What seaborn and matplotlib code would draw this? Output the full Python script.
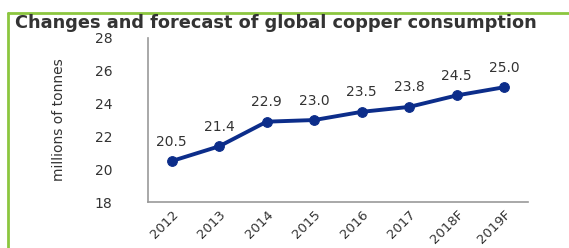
import matplotlib
matplotlib.use('Agg')
import matplotlib.pyplot as plt
import seaborn as sns
import pandas as pd
import numpy as np
from matplotlib.lines import Line2D

# datos del gráfico
years = ['2012', '2013', '2014', '2015', '2016', '2017', '2018F', '2019F']
consumption = [20.5, 21.4, 22.9, 23.0, 23.5, 23.8, 24.5, 25.0]

df = pd.DataFrame({'pos': np.arange(len(years)), 'year': years, 'value': consumption})

sns.set_style('white')
plt.rcParams['font.family'] = ['DejaVu Sans']

fig = plt.figure(figsize=(5.69, 2.48), dpi=100)
ax = fig.add_axes([0.260, 0.185, 0.668, 0.662])

line_color = '#0c2d8a'
sns.lineplot(data=df, x='pos', y='value', ax=ax, color=line_color, linewidth=2.8,
             marker='o', markersize=7, markeredgecolor=line_color)

# etiquetas de datos
for x, v in zip(df['pos'], df['value']):
    ax.annotate(f'{v:.1f}', (x, v), xytext=(0, 9), textcoords='offset points',
                ha='center', va='bottom', fontsize=10, color='#333333')

ax.set_xlim(-0.5, len(years) - 0.5)
ax.set_ylim(18, 28)
ax.set_yticks(range(18, 29, 2))
ax.set_xticks(df['pos'])
ax.set_xticklabels(years, rotation=45, ha='right', rotation_mode='anchor',
                   fontsize=9.5, color='#333333')
ax.tick_params(axis='x', which='major', length=0, pad=4)
ax.set_xticks(np.arange(-0.5, len(years), 1), minor=True)
ax.tick_params(axis='x', which='minor', length=4, color='#999999', width=1)
ax.tick_params(axis='y', length=4, color='#999999', width=1, labelsize=10,
               labelcolor='#333333', pad=28)
for lbl in ax.get_yticklabels():
    lbl.set_ha('center')

ax.set_xlabel('')
ax.set_ylabel('millions of tonnes', fontsize=10, color='#333333')
ax.yaxis.set_label_coords(-0.215, 0.5)

for s in ['top', 'right']:
    ax.spines[s].set_visible(False)
for s in ['left', 'bottom']:
    ax.spines[s].set_color('#999999')
    ax.spines[s].set_linewidth(1.2)

fig.text(0.026, 0.908, 'Changes and forecast of global copper consumption',
         fontsize=12.8, fontweight='bold', color='#333333', ha='left', va='center')

# marco verde
green = '#8cc63f'
fig.add_artist(Line2D([8 / 569, 1], [1 - 13 / 248, 1 - 13 / 248], color=green,
                      linewidth=2, transform=fig.transFigure))
fig.add_artist(Line2D([8 / 569, 8 / 569], [0, 1 - 13 / 248], color=green,
                      linewidth=2, transform=fig.transFigure))

fig.savefig('out.png', dpi=100)
